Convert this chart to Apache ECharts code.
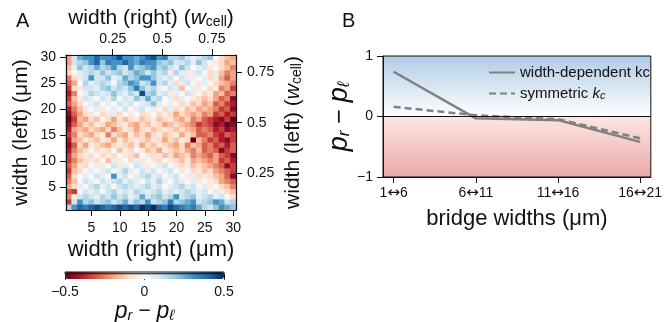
<!DOCTYPE html>
<html>
<head>
<meta charset="utf-8">
<script src="https://cdn.jsdelivr.net/npm/echarts@6/dist/echarts.min.js"></script>
<style>
  html, body { margin: 0; padding: 0; background: #fff; }
  #main { width: 665px; height: 322px; }
</style>
</head>
<body>
<div id="main"></div>
<script>
// panel A: bridge widths in um (tick categories)
var widthsUm = [1, 2, 3, 4, 5, 6, 7, 8, 9, 10, 11, 12, 13, 14, 15, 16, 17, 18, 19, 20,
                21, 22, 23, 24, 25, 26, 27, 28, 29, 30];
var wcellTicks = [0.25, 0.5, 0.75];
var wcellTopRange = [0.0143, 0.8714];
var wcellRightRange = [0.065, 0.8375];
var colorbarTicks = [-0.5, 0, 0.5];

// p_r - p_l, rows from width(left)=30 (top) down to 1 (bottom), columns width(right)=1..30
var cellValues = [
  [-0.2, 0.1, 0.25, 0.3, 0.3, 0.4, 0.3, 0.3, 0.35, 0.45, 0.3, 0.3, 0.25, 0.3, 0.4, 0.45, 0.3, 0.35, 0.15, 0.15, 0.2, 0.1, 0.05, 0.1, 0.15, 0.2, 0.0, -0.1, -0.15, -0.2],
  [-0.2, 0.1, 0.15, 0.2, 0.3, 0.4, 0.2, 0.35, 0.3, 0.3, 0.4, 0.3, 0.25, 0.35, 0.3, 0.3, 0.2, 0.15, 0.2, 0.1, 0.1, 0.15, 0.05, 0.2, 0.1, 0.0, -0.05, -0.1, -0.2, -0.15],
  [-0.15, 0.05, 0.2, 0.1, 0.15, 0.25, 0.15, 0.2, 0.3, 0.15, 0.1, 0.3, 0.15, 0.2, 0.25, 0.3, 0.15, 0.2, 0.1, 0.05, 0.2, 0.1, 0.0, 0.05, 0.1, -0.05, 0.0, -0.1, -0.15, -0.25],
  [-0.1, 0.0, 0.05, 0.1, 0.15, 0.1, 0.2, 0.1, 0.15, 0.2, 0.1, 0.15, 0.25, 0.2, 0.1, 0.2, 0.1, 0.15, -0.05, 0.15, 0.05, -0.05, 0.05, 0.1, 0.0, -0.1, 0.05, -0.15, -0.25, -0.2],
  [-0.25, -0.1, 0.05, 0.1, 0.3, 0.1, 0.1, 0.2, 0.05, 0.1, 0.25, 0.15, 0.2, 0.3, 0.3, 0.2, 0.1, 0.05, 0.1, 0.0, 0.1, 0.05, -0.05, 0.0, 0.05, -0.1, -0.05, -0.2, -0.3, -0.2],
  [-0.3, -0.2, 0.0, 0.15, 0.05, 0.1, 0.15, 0.1, 0.0, 0.15, 0.2, 0.3, 0.25, 0.1, 0.15, 0.3, 0.1, 0.15, 0.05, -0.1, 0.05, 0.1, 0.0, -0.05, 0.05, 0.0, -0.1, -0.15, -0.2, -0.25],
  [-0.35, -0.1, -0.05, 0.1, 0.1, 0.05, 0.15, 0.2, 0.1, 0.15, 0.1, 0.2, 0.35, 0.2, 0.1, 0.15, 0.05, 0.0, 0.1, 0.05, -0.15, 0.0, 0.05, -0.05, 0.0, -0.1, -0.05, -0.25, -0.2, -0.35],
  [-0.4, -0.25, 0.0, 0.05, 0.15, 0.1, 0.05, 0.1, 0.2, 0.1, 0.05, 0.15, 0.1, 0.45, 0.15, 0.2, 0.05, 0.1, -0.05, 0.05, 0.0, 0.1, -0.05, 0.0, -0.1, -0.05, -0.2, -0.15, -0.3, -0.25],
  [-0.35, -0.15, -0.05, 0.1, 0.05, 0.0, 0.1, 0.05, 0.15, 0.0, 0.1, 0.05, 0.2, 0.1, 0.25, 0.1, 0.15, 0.0, 0.05, -0.1, 0.05, 0.0, -0.05, -0.1, -0.15, -0.1, -0.2, -0.3, -0.25, -0.45],
  [-0.3, -0.2, -0.1, 0.0, 0.05, 0.1, 0.0, 0.05, 0.0, 0.1, 0.05, 0.1, 0.0, 0.05, 0.1, 0.2, 0.05, 0.0, -0.05, 0.0, -0.1, -0.05, -0.15, -0.1, -0.2, -0.15, -0.3, -0.25, -0.35, -0.4],
  [-0.4, -0.25, -0.15, -0.05, 0.0, 0.05, -0.05, 0.0, 0.05, 0.0, 0.1, 0.0, 0.05, 0.1, 0.0, -0.05, 0.0, -0.1, 0.05, -0.1, -0.05, -0.15, -0.1, -0.2, -0.15, -0.2, -0.25, -0.35, -0.3, -0.45],
  [-0.45, -0.3, -0.2, -0.1, -0.05, 0.0, -0.1, -0.05, 0.05, -0.1, 0.0, -0.05, 0.0, -0.1, -0.05, 0.0, -0.1, -0.05, -0.1, -0.2, -0.1, -0.15, -0.2, -0.15, -0.25, -0.2, -0.35, -0.3, -0.4, -0.35],
  [-0.5, -0.35, -0.15, -0.2, -0.1, -0.15, 0.0, -0.1, -0.2, -0.05, -0.15, -0.1, -0.05, -0.15, -0.1, -0.05, -0.15, -0.1, -0.05, -0.15, -0.2, -0.1, -0.25, -0.2, -0.3, -0.35, -0.4, -0.45, -0.35, -0.5],
  [-0.45, -0.3, -0.2, -0.1, -0.15, -0.05, -0.1, -0.2, -0.15, -0.1, -0.05, -0.15, -0.2, -0.1, -0.15, -0.05, -0.1, -0.2, -0.15, -0.1, -0.15, -0.2, -0.25, -0.35, -0.3, -0.35, -0.45, -0.4, -0.5, -0.45],
  [-0.4, -0.2, -0.15, -0.2, -0.1, -0.15, -0.2, -0.1, -0.25, -0.15, -0.05, -0.1, -0.2, -0.1, -0.05, -0.15, -0.1, -0.05, -0.1, -0.15, -0.1, -0.15, -0.2, -0.3, -0.25, -0.3, -0.4, -0.35, -0.45, -0.4],
  [-0.35, -0.25, -0.1, -0.15, -0.2, -0.1, -0.05, -0.25, -0.1, -0.15, -0.2, -0.05, -0.15, -0.1, -0.2, -0.1, -0.05, -0.15, -0.1, -0.05, -0.2, -0.1, -0.15, -0.3, -0.3, -0.25, -0.35, -0.4, -0.3, -0.35],
  [-0.4, -0.2, -0.15, -0.05, -0.1, -0.15, -0.05, -0.1, -0.2, -0.05, -0.15, -0.1, -0.05, -0.1, -0.15, -0.05, -0.1, -0.2, -0.1, -0.15, -0.05, -0.1, -0.5, -0.15, -0.25, -0.35, -0.3, -0.4, -0.45, -0.35],
  [-0.45, -0.3, -0.1, -0.2, -0.05, -0.1, -0.15, -0.2, -0.1, -0.05, -0.1, -0.15, -0.05, -0.2, -0.1, -0.15, -0.05, -0.1, -0.15, -0.2, -0.1, -0.25, -0.15, -0.2, -0.3, -0.25, -0.35, -0.3, -0.4, -0.3],
  [-0.4, -0.25, -0.15, -0.1, 0.0, -0.1, -0.05, -0.1, 0.0, -0.15, -0.05, -0.1, 0.0, -0.05, -0.15, -0.1, -0.2, -0.05, -0.1, -0.15, -0.1, -0.2, -0.25, -0.15, -0.3, -0.25, -0.3, -0.45, -0.35, -0.3],
  [-0.35, -0.2, -0.1, -0.05, -0.1, 0.0, -0.1, -0.05, -0.1, 0.0, -0.05, -0.1, -0.15, 0.0, -0.05, -0.1, -0.05, -0.15, -0.1, -0.2, -0.15, -0.1, -0.25, -0.2, -0.25, -0.3, -0.2, -0.3, -0.35, -0.45],
  [-0.35, -0.25, -0.15, -0.1, -0.05, -0.1, 0.0, -0.15, 0.05, -0.05, 0.0, -0.1, 0.05, -0.05, 0.0, -0.05, -0.1, 0.0, -0.05, -0.1, -0.15, -0.05, -0.2, -0.15, -0.2, -0.25, -0.2, -0.35, -0.3, -0.4],
  [-0.3, -0.2, -0.05, -0.1, 0.0, 0.05, -0.05, 0.0, 0.1, -0.05, 0.05, 0.0, 0.1, 0.05, -0.05, 0.0, 0.05, 0.1, 0.0, -0.05, -0.1, -0.05, -0.15, -0.1, -0.15, -0.2, -0.25, -0.3, -0.45, -0.35],
  [-0.35, -0.15, -0.1, 0.0, 0.05, 0.0, 0.05, 0.1, 0.0, 0.05, 0.15, 0.05, 0.0, 0.1, 0.05, 0.1, 0.0, 0.05, 0.1, 0.0, -0.05, 0.0, -0.1, -0.05, -0.15, -0.1, -0.2, -0.25, -0.3, -0.35],
  [-0.3, -0.1, 0.0, 0.05, 0.0, 0.1, 0.05, 0.0, 0.3, 0.05, 0.1, 0.0, 0.05, 0.1, 0.15, 0.05, 0.1, 0.0, 0.05, 0.1, 0.0, -0.05, 0.05, -0.1, -0.05, -0.1, -0.15, -0.2, -0.3, -0.45],
  [-0.25, -0.15, 0.0, 0.1, 0.05, 0.0, 0.1, 0.05, 0.1, 0.15, 0.05, 0.1, 0.05, 0.0, 0.1, 0.05, 0.15, 0.05, 0.0, 0.1, 0.05, 0.0, 0.05, -0.05, 0.0, -0.05, -0.1, -0.2, -0.25, -0.3],
  [-0.2, -0.1, 0.05, 0.0, 0.1, 0.15, 0.05, 0.1, 0.0, 0.1, 0.15, 0.1, 0.05, 0.1, 0.15, 0.05, 0.1, 0.0, 0.05, 0.1, 0.15, 0.05, 0.1, 0.0, 0.05, -0.05, 0.0, -0.1, -0.15, -0.25],
  [-0.3, -0.35, 0.0, 0.1, 0.05, 0.1, 0.0, 0.1, 0.15, 0.05, 0.1, 0.05, 0.15, 0.1, 0.05, 0.1, 0.15, 0.05, 0.1, 0.05, 0.1, 0.15, 0.1, 0.05, 0.1, 0.0, 0.05, -0.05, -0.1, -0.15],
  [-0.25, -0.05, 0.1, 0.15, 0.1, 0.05, 0.15, 0.1, 0.2, 0.1, 0.15, 0.05, 0.1, 0.25, 0.1, 0.15, 0.2, 0.1, 0.15, 0.3, 0.1, 0.15, 0.2, 0.05, 0.1, 0.15, 0.05, 0.1, 0.0, -0.1],
  [-0.35, 0.1, 0.3, 0.15, 0.2, 0.1, 0.15, 0.2, 0.1, 0.15, 0.25, 0.1, 0.2, 0.15, 0.3, 0.1, 0.15, 0.2, 0.35, 0.15, 0.2, 0.25, 0.3, 0.1, 0.15, 0.2, 0.3, 0.25, 0.1, 0.15],
  [0.15, 0.3, 0.4, 0.35, 0.4, 0.45, 0.4, 0.35, 0.4, 0.45, 0.4, 0.45, 0.4, 0.5, 0.45, 0.5, 0.4, 0.35, 0.45, 0.4, 0.35, 0.3, 0.35, 0.25, 0.15, 0.1, 0.2, 0.3, 0.25, 0.2]
];

// panel B
var bridgeFrom = [1, 6, 11, 16];
var bridgeTo = [6, 11, 16, 21];
var widthDependentKc = [0.74, -0.03, -0.06, -0.42];
var symmetricKc = [0.16, 0.02, -0.045, -0.36];

var FONT = 'Liberation Sans, Arial, sans-serif';
var GREY = '#808080';
var INK = '#111';
var minus = function (v) { return String(v).replace('-', '\u2212'); };

var heatData = [];
cellValues.forEach(function (row, r) {
  row.forEach(function (v, c) {
    heatData.push([c, cellValues.length - 1 - r, v]);
  });
});

var chart = echarts.init(document.getElementById('main'));

var everyFifth = function (index) { return (index + 1) % 5 === 0; };
var lab = { fontFamily: FONT, fontSize: 14, color: INK };
var tick = { show: true, length: 6, lineStyle: { color: INK } };
var line = function (w) { return { show: true, onZero: false, lineStyle: { color: INK, width: w } }; };

function wcellName(prefix) {
  return {
    text: '{t|' + prefix + ' (}{i|w}{s|cell}{t|)}',
    style: {
      rich: {
        t: { fontSize: 21, color: INK, fontFamily: FONT },
        i: { fontSize: 21, color: INK, fontFamily: FONT, fontStyle: 'italic' },
        s: { fontSize: 14, color: INK, fontFamily: FONT, padding: [8, 0, 0, 0] }
      }
    }
  };
}
var diffRich = function (big, small, pad) {
  return {
    t: { fontSize: big - 2, color: INK, fontFamily: FONT },
    i: { fontSize: big, color: INK, fontFamily: FONT, fontStyle: 'italic' },
    s: { fontSize: small, color: INK, fontFamily: FONT, fontStyle: 'italic', padding: [pad, 0, 0, 0] }
  };
};
var diffName = '{i|p}{s|r}{t| \u2212 }{i|p}{s|\u2113}';

var topName = wcellName('width (right)');
var rightName = wcellName('width (left)');

var option = {
  animation: false,
  textStyle: { fontFamily: FONT },
  title: [
    { text: 'A', left: 11, top: 6, textStyle: { fontSize: 20, fontWeight: 'normal', color: INK, fontFamily: FONT } },
    { text: 'B', left: 337, top: 6, textStyle: { fontSize: 20, fontWeight: 'normal', color: INK, fontFamily: FONT } }
  ],
  grid: [
    { left: 66, top: 55, width: 170, height: 155 },
    { left: 65, top: 272, width: 159, height: 7, show: true, borderColor: INK, borderWidth: 1, z: 10, backgroundColor: 'transparent' },
    {
      left: 383, top: 56, width: 269, height: 121, show: true, borderColor: INK, borderWidth: 1,
      backgroundColor: new echarts.graphic.LinearGradient(0, 0, 0, 1, [
        { offset: 0, color: '#b0cbe4' },
        { offset: 0.5, color: '#ffffff' },
        { offset: 0.5, color: '#fde6e2' },
        { offset: 1, color: '#e8a8a8' }
      ])
    }
  ],
  xAxis: [
    {
      gridIndex: 0, type: 'category', data: widthsUm, position: 'bottom', z: 5,
      axisLine: line(1.2),
      axisTick: Object.assign({ alignWithLabel: true, interval: everyFifth }, tick),
      axisLabel: Object.assign({ interval: everyFifth, margin: 11 }, lab),
      name: 'width (right) (\u03bcm)', nameLocation: 'middle', nameGap: 29,
      nameTextStyle: { fontSize: 22, color: INK, fontFamily: FONT }
    },
    {
      gridIndex: 0, type: 'value', position: 'top', z: 5,
      min: wcellTopRange[0], max: wcellTopRange[1],
      splitLine: { show: false },
      axisLine: line(1.2),
      axisTick: Object.assign({ customValues: wcellTicks }, tick),
      axisLabel: Object.assign({ customValues: wcellTicks, margin: 9 }, lab),
      name: topName.text, nameLocation: 'middle', nameGap: 26,
      nameTextStyle: topName.style
    },
    {
      gridIndex: 1, type: 'value', min: -0.5, max: 0.5, interval: 0.5,
      splitLine: { show: false },
      axisLine: { show: false },
      axisTick: tick,
      axisLabel: Object.assign({ formatter: minus, margin: 11, customValues: colorbarTicks }, lab),
      name: diffName, nameLocation: 'middle', nameGap: 22,
      nameTextStyle: { rich: diffRich(23, 15, 9) }
    },
    {
      gridIndex: 2, type: 'value', min: -0.13, max: 3.13,
      splitLine: { show: false },
      axisLine: line(1),
      axisTick: Object.assign({ customValues: [0, 1, 2, 3] }, tick),
      axisLabel: Object.assign({
        customValues: [0, 1, 2, 3], margin: 9,
        formatter: function (v) {
          var i = Math.round(v);
          return '{n|' + bridgeFrom[i] + '}{a|\u2194}{n|' + bridgeTo[i] + '}';
        },
        rich: {
          n: { fontSize: 14, color: INK, fontFamily: FONT },
          a: { fontSize: 15, color: INK, fontFamily: 'DejaVu Sans' }
        }
      }, lab),
      name: 'bridge widths (\u03bcm)', nameLocation: 'middle', nameGap: 31,
      nameTextStyle: { fontSize: 22, color: INK, fontFamily: FONT }
    }
  ],
  yAxis: [
    {
      gridIndex: 0, type: 'category', data: widthsUm, position: 'left', z: 5,
      axisLine: line(1.2),
      axisTick: Object.assign({ alignWithLabel: true, interval: everyFifth }, tick),
      axisLabel: Object.assign({ interval: everyFifth, margin: 10 }, lab),
      name: 'width (left) (\u03bcm)', nameLocation: 'middle', nameGap: 34, nameRotate: 90,
      nameTextStyle: { fontSize: 21, color: INK, fontFamily: FONT }
    },
    {
      gridIndex: 0, type: 'value', position: 'right', z: 5,
      min: wcellRightRange[0], max: wcellRightRange[1],
      splitLine: { show: false },
      axisLine: line(1.2),
      axisTick: Object.assign({ customValues: wcellTicks }, tick),
      axisLabel: Object.assign({ customValues: wcellTicks, margin: 11 }, lab),
      name: rightName.text, nameLocation: 'middle', nameGap: 46, nameRotate: 90,
      nameTextStyle: rightName.style
    },
    {
      gridIndex: 1, type: 'value', min: 0, max: 1, show: false
    },
    {
      gridIndex: 2, type: 'value', min: -1, max: 1, interval: 1,
      splitLine: { show: false },
      axisLine: line(1),
      axisTick: tick,
      axisLabel: Object.assign({ formatter: minus, margin: 10 }, lab),
      name: diffName, nameLocation: 'middle', nameGap: 22, nameRotate: 90,
      nameTextStyle: { rich: diffRich(27, 17, 10) }
    }
  ],
  visualMap: {
    type: 'continuous', seriesIndex: 0, min: -0.5, max: 0.5,
    orient: 'horizontal', left: 65, top: 272, itemWidth: 7, itemHeight: 159,
    calculable: false, text: null, showLabel: false, padding: 0,
    inRange: {
      color: ['#67001f', '#b2182b', '#d6604d', '#f4a582', '#fddbc7', '#f7f7f7',
              '#d1e5f0', '#92c5de', '#4393c3', '#2166ac', '#053061']
    }
  },
  legend: {
    orient: 'vertical', left: 483, top: 60, itemGap: 6, itemWidth: 26, itemHeight: 10,
    itemStyle: { opacity: 0 },
    data: ['width-dependent kc', 'symmetric kc'],
    formatter: function (name) {
      return name === 'symmetric kc' ? '{t|symmetric }{i|k}{s|c}' : '{t|' + name + '}';
    },
    textStyle: {
      rich: {
        t: { fontSize: 15, color: INK, fontFamily: FONT },
        i: { fontSize: 15, color: INK, fontFamily: FONT, fontStyle: 'italic' },
        s: { fontSize: 11, color: INK, fontFamily: FONT, fontStyle: 'italic', padding: [5, 0, 0, 0] }
      }
    }
  },
  series: [
    {
      type: 'heatmap', xAxisIndex: 0, yAxisIndex: 0, data: heatData,
      itemStyle: { borderWidth: 0 }, emphasis: { disabled: true }
    },
    {
      name: 'width-dependent kc', type: 'line', xAxisIndex: 3, yAxisIndex: 3,
      data: widthDependentKc.map(function (v, i) { return [i, v]; }),
      symbol: 'none', lineStyle: { color: GREY, width: 2.5 }, itemStyle: { color: GREY },
      markLine: {
        silent: true, symbol: 'none', label: { show: false },
        lineStyle: { color: INK, width: 1, type: 'solid' },
        data: [[{ coord: [-0.13, 0] }, { coord: [3.13, 0] }]]
      },
      z: 3
    },
    {
      name: 'symmetric kc', type: 'line', xAxisIndex: 3, yAxisIndex: 3,
      data: symmetricKc.map(function (v, i) { return [i, v]; }),
      symbol: 'none', lineStyle: { color: GREY, width: 2.5, type: [7, 4] }, itemStyle: { color: GREY },
      z: 4
    }
  ]
};

chart.setOption(option);
</script>
</body>
</html>
